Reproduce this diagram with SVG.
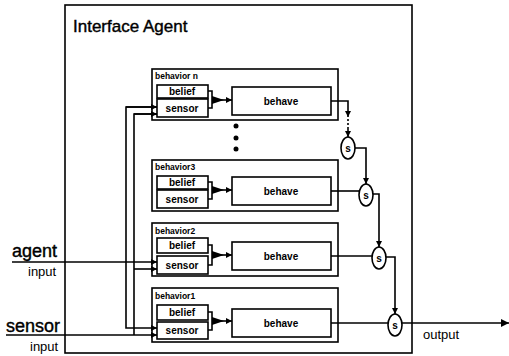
<svg xmlns="http://www.w3.org/2000/svg" width="509" height="356" viewBox="0 0 509 356">
<defs>
<marker id="ah" viewBox="0 0 10 10" refX="10" refY="5" markerWidth="6" markerHeight="6" markerUnits="userSpaceOnUse" orient="auto"><path d="M0,0 L10,5 L0,10 z" fill="#000"/></marker>
<marker id="ahb" viewBox="0 0 10 10" refX="10" refY="5" markerWidth="8" markerHeight="8" markerUnits="userSpaceOnUse" orient="auto"><path d="M0,0 L10,5 L0,10 z" fill="#000"/></marker>
<style>
.box{fill:#fff;stroke:#000;stroke-width:1.6}
.ln{fill:none;stroke:#000;stroke-width:1.6}
.t{font-family:"Liberation Sans",Arial,sans-serif;fill:#000}
.heavy{stroke:#000;stroke-width:0.4}
.lbl{font-family:"Liberation Sans",Arial,sans-serif;font-weight:bold;font-size:8.5px}
.in{font-family:"Liberation Sans",Arial,sans-serif;font-weight:bold;font-size:10px;text-anchor:middle}
</style>
</defs>
<rect width="509" height="356" fill="#fff"/>
<g id="frame">
<rect class="box" x="65" y="5" width="347" height="348"/>
<text class="t heavy" x="73" y="32" font-size="17">Interface Agent</text>
</g>
<g id="behavior-n">
<rect class="box" x="152" y="69" width="186" height="51"/>
<text class="lbl" x="155" y="79">behavior n</text>
<rect class="box" x="157" y="85" width="51" height="13"/>
<text class="in" x="182" y="95">belief</text>
<rect class="box" x="157" y="99" width="51" height="18"/>
<text class="in" x="182" y="112">sensor</text>
<rect class="box" x="232" y="87" width="99" height="28"/>
<text class="in" x="281" y="104.5">behave</text>
<path class="ln" d="M208,91 H212 V108 H208"/>
<polygon points="212,96 224,100 212,104"/>
<line class="ln" x1="212" y1="100" x2="232" y2="100" marker-end="url(#ah)"/>
</g>
<g id="dots">
<circle cx="236" cy="126" r="2.5"/>
<circle cx="236" cy="138" r="2.5"/>
<circle cx="236" cy="149" r="2.5"/>
</g>
<g id="behavior-3">
<rect class="box" x="152" y="160" width="186" height="51"/>
<text class="lbl" x="155" y="170">behavior3</text>
<rect class="box" x="157" y="176" width="51" height="13"/>
<text class="in" x="182" y="186">belief</text>
<rect class="box" x="157" y="190" width="51" height="18"/>
<text class="in" x="182" y="203">sensor</text>
<rect class="box" x="232" y="177" width="99" height="28"/>
<text class="in" x="281" y="194.5">behave</text>
<path class="ln" d="M208,182 H212 V199 H208"/>
<polygon points="212,186 224,190 212,194"/>
<line class="ln" x1="212" y1="190" x2="232" y2="190" marker-end="url(#ah)"/>
</g>
<g id="behavior-2">
<rect class="box" x="152" y="223" width="186" height="53"/>
<text class="lbl" x="155" y="234">behavior2</text>
<rect class="box" x="157" y="238" width="51" height="15"/>
<text class="in" x="182" y="249">belief</text>
<rect class="box" x="157" y="256" width="51" height="18"/>
<text class="in" x="182" y="269">sensor</text>
<rect class="box" x="232" y="242" width="99" height="28"/>
<text class="in" x="281" y="259.5">behave</text>
<path class="ln" d="M208,245 H212 V265 H208"/>
<polygon points="212,251 224,255 212,259"/>
<line class="ln" x1="212" y1="255" x2="232" y2="255" marker-end="url(#ah)"/>
</g>
<g id="behavior-1">
<rect class="box" x="152" y="288" width="186" height="54"/>
<text class="lbl" x="155" y="299">behavior1</text>
<rect class="box" x="157" y="305" width="51" height="15"/>
<text class="in" x="182" y="316">belief</text>
<rect class="box" x="157" y="322" width="51" height="17"/>
<text class="in" x="182" y="334">sensor</text>
<rect class="box" x="232" y="309" width="99" height="28"/>
<text class="in" x="281" y="326.5">behave</text>
<path class="ln" d="M208,312 H212 V330 H208"/>
<polygon points="212,317 224,321 212,325"/>
<line class="ln" x1="212" y1="321" x2="232" y2="321" marker-end="url(#ah)"/>
</g>
<g id="s1"><ellipse class="box" cx="348" cy="148" rx="7" ry="11"/><text class="in" x="348" y="152">s</text></g>
<g id="s2"><ellipse class="box" cx="366" cy="195" rx="7" ry="11"/><text class="in" x="366" y="199">s</text></g>
<g id="s3"><ellipse class="box" cx="379" cy="258" rx="7" ry="11"/><text class="in" x="379" y="262">s</text></g>
<g id="s4"><ellipse class="box" cx="395" cy="325" rx="7" ry="11"/><text class="in" x="395" y="329">s</text></g>
<g id="inputs">
<text class="t heavy" x="12" y="257" font-size="18">agent</text>
<text class="t" x="28" y="276" font-size="13">input</text>
<text class="t heavy" x="6" y="332" font-size="18">sensor</text>
<text class="t" x="30" y="351" font-size="13">input</text>
<text class="t" x="423" y="339" font-size="13">output</text>
</g>
<g id="connectors">
<line class="ln" x1="12" y1="262" x2="157" y2="262" marker-end="url(#ah)"/>
<line class="ln" x1="6" y1="335" x2="157" y2="335" marker-end="url(#ah)"/>
<path class="ln" d="M157,107 H126 V328 H157" marker-end="url(#ah)"/>
<path class="ln" d="M157,114 H134 V335" />
<line class="ln" x1="126" y1="107" x2="157" y2="107" marker-end="url(#ah)"/>
<line class="ln" x1="134" y1="114" x2="157" y2="114" marker-end="url(#ah)"/>
<line class="ln" x1="134" y1="269" x2="157" y2="269" marker-end="url(#ah)"/>
<path class="ln" d="M331,101 H348 V117" marker-end="url(#ah)"/>
<line class="ln" x1="348" y1="119" x2="348" y2="128" stroke-dasharray="2,2"/>
<line class="ln" x1="348" y1="128" x2="348" y2="137" marker-end="url(#ah)"/>
<line class="ln" x1="331" y1="191" x2="359" y2="191"/>
<path class="ln" d="M355,148 H366 V184" marker-end="url(#ah)"/>
<line class="ln" x1="331" y1="256" x2="372" y2="256"/>
<path class="ln" d="M373,194 H379 V247" marker-end="url(#ah)"/>
<line class="ln" x1="331" y1="323" x2="388" y2="323"/>
<path class="ln" d="M386,257 H395 V314" marker-end="url(#ah)"/>
<line class="ln" x1="402" y1="323" x2="509" y2="323" marker-end="url(#ahb)"/>
</g>
</svg>
